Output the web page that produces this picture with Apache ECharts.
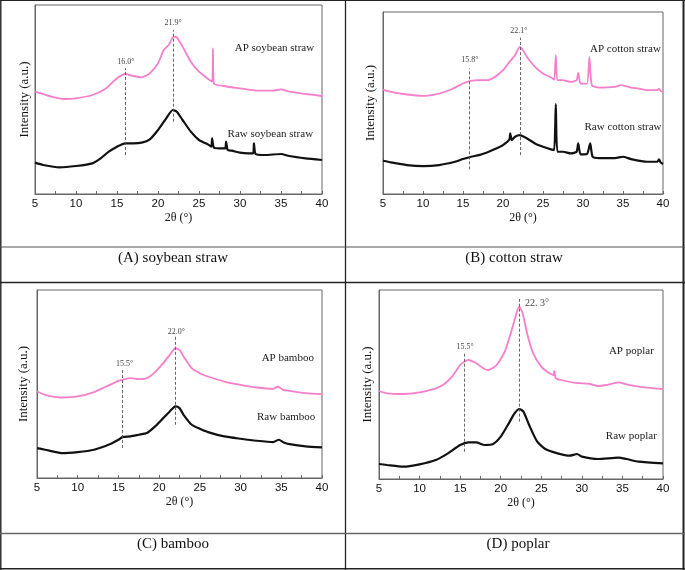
<!DOCTYPE html>
<html><head><meta charset="utf-8">
<script src="https://cdn.jsdelivr.net/npm/echarts@6/dist/echarts.min.js"></script>
<style>html,body{margin:0;padding:0;background:#fff}#c{width:685px;height:570px}</style>
</head><body><div id="c"></div>
<script>
// ---------- DATA (2θ in degrees, intensity in arbitrary units) ----------
const soyApX  = [5,7,8.5,10,12,13.5,15,16,17,18,19,20,20.7,21.3,21.9,22.3,23,24,25,26,26.6,26.7,26.8,28,30,32,34,35,36,38,40];
const soyApY  = [307,292,285,287,297,314,347,360,354,350,362,392,432,447,472,470,442,397,367,347,337,437,332,324,317,310,310,314,307,300,294];
const soyRawX = [5,6,8,10,12,13,14,15,16,17,18,19,20,21,21.8,22.3,23,24,25,26,26.5,26.6,26.8,27.5,28.2,28.3,28.5,29,30,31,31.6,31.7,31.9,33,35,36,38,40];
const soyRawY = [94,87,80,84,92,107,127,142,152,152,154,164,192,227,252,247,222,187,162,150,142,167,140,137,137,157,132,130,124,122,122,152,120,117,120,114,107,102];

const cotApX  = [5,6,8,10,12,13.5,15,16,17,18,19,20,20.8,21.5,22.1,22.5,23,24,25,26,26.4,26.6,26.8,27.5,28.5,29.2,29.4,29.7,30.5,30.8,31.1,32,34,34.7,36,37,38,39.3,39.5,39.7,40];
const cotApY  = [314,307,299,295,302,314,332,340,342,342,352,372,397,417,442,432,412,382,362,350,344,417,342,342,337,342,364,332,332,412,327,320,322,327,320,317,312,312,317,310,307];
const cotRawX = [5,6,8,10,12,14,15,16,17,18,19,20,20.8,20.9,21.1,21.5,22.1,23,24,25,26,26.4,26.6,26.8,27.5,28.5,29.2,29.4,29.7,30.5,30.9,31.2,32,34,35,36,38,39.3,39.5,39.7,40];
const cotRawY = [100,95,87,84,87,97,105,112,117,125,135,147,164,182,162,172,177,167,152,142,134,132,270,127,127,122,127,152,119,120,152,112,108,108,112,105,97,97,104,95,90];

const bamApX  = [5,6,8,10,12,13.5,15,15.5,16.5,17.5,18.5,19.5,20.5,21.3,22,22.5,23,24,25,26,28,30,32,34,34.6,35.2,36,38,40];
const bamApY  = [260,250,242,245,258,275,292,295,300,297,300,318,345,370,390,385,365,330,315,305,290,280,272,268,275,265,262,255,252];
const bamRawX = [5,6,8,10,12,14,15,15.5,16.5,17.5,18.5,19.5,20.5,21.3,22,22.5,23,24,25,26,28,30,32,34,34.7,35.3,36,38,40];
const bamRawY = [90,85,75,78,85,102,115,123,125,130,135,155,180,200,215,210,190,160,148,138,125,118,112,108,115,107,102,95,92];

const popApX  = [5,6,8,10,12,13,14,15,15.5,16,17,18,18.5,19.5,20.5,21.3,22,22.3,22.7,23.3,24,25,26,26.5,26.6,26.8,27.5,29,30,31,32,33,34.5,35.5,37,38,40];
const popApY  = [264,257,255,260,272,284,307,342,352,357,347,330,327,342,382,442,502,517,497,432,377,337,317,312,324,302,297,289,287,285,279,282,290,284,277,274,270];
const popRawX = [5,6,8,10,12,13.5,15,16,17,18,19,20,21,21.7,22.3,22.8,23.5,24.5,25.5,27,28.5,29.4,30,32,34.5,35.5,37,40];
const popRawY = [45,42,37,44,57,77,102,110,110,102,104,127,167,197,210,202,162,112,90,77,70,75,67,60,64,60,52,47];

const peakLow  = [16.0, 15.8, 15.5, 15.5];
const peakHigh = [21.9, 22.1, 22.0, 22.3];
const peakLowText  = ['16.0°', '15.8°', '15.5°', '15.5°'];
const peakHighText = ['21.9°', '22.1°', '22.0°', '22. 3°'];
const apNames  = ['AP soybean straw', 'AP cotton straw', 'AP bamboo', 'AP poplar'];
const rawNames = ['Raw soybean straw', 'Raw cotton straw', 'Raw bamboo', 'Raw poplar'];
const captions = ['(A) soybean straw', '(B) cotton straw', '(C) bamboo', '(D) poplar'];
const xMin = 5, xMax = 40, xStep = 2.5;

// ---------- LAYOUT ----------
const layout = [
  {grid:{left:35, top:5,   width:287, height:189}, yMax:567, nameGap:4,
   ap:[soyApX,soyApY], raw:[soyRawX,soyRawY],
   lowLine:[117,377], highLine:[217,492], lowLab:[16.08,397], highLab:[21.85,514],
   apLab:[34.2,437], rawLab:[33.7,179], cap:[173,258]},
  {grid:{left:383, top:12, width:280, height:182}, yMax:547, nameGap:6,
   ap:[cotApX,cotApY], raw:[cotRawX,cotRawY],
   lowLine:[74,377], highLine:[117,470], lowLab:[15.86,402], highLab:[21.98,490],
   apLab:[35.3,434], rawLab:[35.0,200], cap:[514,258]},
  {grid:{left:37, top:290, width:285, height:188}, yMax:565, nameGap:7,
   ap:[bamApX,bamApY], raw:[bamRawX,bamRawY],
   lowLine:[90,325], highLine:[160,425], lowLab:[15.77,343], highLab:[22.1,440],
   apLab:[35.8,360], rawLab:[35.6,183], cap:[173,544]},
  {grid:{left:379, top:290, width:284, height:189}, yMax:567, nameGap:4.5,
   ap:[popApX,popApY], raw:[popRawX,popRawY],
   lowLine:[82,382], highLine:[172,540], lowLab:[15.6,397], highLab:[24.46,527],
   apLab:[36.1,385], rawLab:[36.1,129], cap:[518,544]}
];

const serif = 'Liberation Serif, Times New Roman, serif';
const sans = 'Liberation Sans, Arial, sans-serif';
const zip = (xs, ys) => xs.map((x, i) => [x, ys[i]]);

const grids = [], xAxes = [], yAxes = [], series = [];
layout.forEach((L, i) => {
  grids.push(Object.assign({show:true, borderColor:'#666', borderWidth:1, containLabel:false}, L.grid));
  xAxes.push({
    type:'value', gridIndex:i, min:xMin, max:xMax, interval:xStep,
    name:'2θ (°)', nameLocation:'middle', nameGap:18,
    nameTextStyle:{fontFamily:serif, fontSize:12, color:'#111'},
    axisLine:{show:true, lineStyle:{color:'#666', width:1}},
    axisTick:{show:true, inside:true, length:3, lineStyle:{color:'#666'}},
    axisLabel:{margin:4, fontFamily:sans, fontSize:11.5, color:'#111',
      formatter: v => (v % 5 === 0 ? String(v) : '')},
    splitLine:{show:false}
  });
  yAxes.push({
    type:'value', gridIndex:i, min:0, max:L.yMax,
    name:'Intensity (a.u.)', nameLocation:'middle', nameGap:L.nameGap, nameRotate:90,
    nameTextStyle:{fontFamily:serif, fontSize:13, color:'#111'},
    axisLine:{show:true, lineStyle:{color:'#666'}},
    axisTick:{show:false}, axisLabel:{show:false}, splitLine:{show:false}
  });
  const dash = {color:'#555', width:0.9, type:[3,2]};
  const txt = (coord, name, size, color) => ({coord, name,
    label:{show:true, position:'inside', formatter:'{b}', fontFamily:serif, fontSize:size, color}});
  series.push({
    type:'line', xAxisIndex:i, yAxisIndex:i, data:zip(L.ap[0], L.ap[1]),
    showSymbol:false, smooth:0.2, lineStyle:{color:'#f57fcb', width:1.8}, z:3,
    markLine:{silent:true, symbol:'none', animation:false, label:{show:false}, lineStyle:dash,
      data:[
        [{coord:[peakLow[i], L.lowLine[0]]},{coord:[peakLow[i], L.lowLine[1]]}],
        [{coord:[peakHigh[i], L.highLine[0]]},{coord:[peakHigh[i], L.highLine[1]]}]
      ]},
    markPoint:{silent:true, symbol:'circle', symbolSize:0, animation:false,
      data:[
        txt(L.lowLab, peakLowText[i], 8, '#444'),
        txt(L.highLab, peakHighText[i], i === 3 ? 10 : 8, '#444'),
        txt(L.apLab, apNames[i], 11, '#222'),
        txt(L.rawLab, rawNames[i], 11, '#222')
      ]}
  });
  series.push({
    type:'line', xAxisIndex:i, yAxisIndex:i, data:zip(L.raw[0], L.raw[1]),
    showSymbol:false, smooth:0.2, lineStyle:{color:'#111', width:2.2}, z:2
  });
});

const lineEl = (x1, y1, x2, y2, color, w) => ({type:'line', silent:true,
  shape:{x1, y1, x2, y2}, style:{stroke:color, lineWidth:w}});
const graphic = [
  lineEl(0, 0.5, 685, 0.5, '#222', 1.2),
  lineEl(0.8, 0, 0.8, 570, '#222', 1.4),
  lineEl(683.5, 0, 683.5, 570, '#222', 2),
  lineEl(0, 568.8, 685, 568.8, '#222', 1.6),
  lineEl(345.5, 0, 345.5, 570, '#222', 1.3),
  lineEl(0, 282.5, 685, 282.5, '#222', 1.3),
  lineEl(0, 247, 685, 247, '#555', 1.2),
  lineEl(0, 533.5, 685, 533.5, '#666', 1.5)
];
layout.forEach((L, i) => graphic.push({type:'text', silent:true, x:L.cap[0], y:L.cap[1],
  style:{text:captions[i], fontFamily:serif, fontSize:15, fill:'#111', align:'center', verticalAlign:'middle'}}));

const chart = echarts.init(document.getElementById('c'), null, {renderer:'canvas'});
chart.setOption({animation:false, backgroundColor:'#fff', grid:grids, xAxis:xAxes, yAxis:yAxes, series, graphic});
</script></body></html>
